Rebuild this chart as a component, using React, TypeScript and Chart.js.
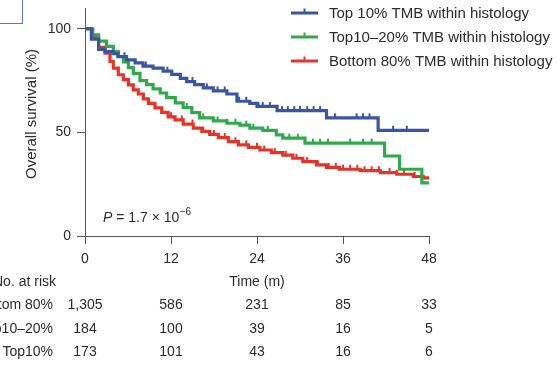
import React, { useEffect, useRef } from "react";
import { Chart, registerables } from "chart.js";
Chart.register(...registerables);

const seriesLabels = [
  "Top 10% TMB within histology",
  "Top10–20% TMB within histology",
  "Bottom 80% TMB within histology",
];
const seriesColors = ["#3a54a6", "#2eaa4c", "#e6332a"];

// Kaplan–Meier step points (time in months, survival %)
const topTimes = [0, 0.9, 1.9, 2.8, 3.9, 4.6, 5.8, 7, 8.1, 9.5, 10.9, 12.1, 13.3, 14.2, 15.3, 16.5, 17.9, 19.8, 21.2, 23, 24, 26.8, 33.7, 40.9, 48];
const topSurv = [100, 95, 90, 89, 88, 86.5, 85, 83.5, 82, 81, 79.5, 78, 76, 74.5, 73, 71.5, 70, 68.5, 65, 64, 62.5, 60.5, 57, 51, 51];

const midTimes = [0, 1.1, 1.9, 3, 3.95, 4.65, 5.35, 6.05, 6.74, 7.67, 8.6, 9.5, 10.5, 11.4, 12.6, 13.7, 14.9, 16, 17.9, 19.8, 21.6, 23, 24.8, 26.7, 27.6, 30.7, 41.8, 43.9, 47, 48];
const midSurv = [100, 97, 94, 91.5, 89, 86.6, 84, 81.2, 78.5, 75, 73, 71, 69, 66.8, 64.2, 62, 59.5, 57, 55.5, 54.4, 53.5, 52, 51, 48.8, 47.2, 44.8, 38.6, 32.2, 25.6, 25.6];

const botTimes = [0, 0.9, 1.9, 2.79, 3.49, 3.95, 4.65, 5.35, 6.05, 6.74, 7.44, 8.14, 8.84, 9.77, 10.7, 11.6, 12.56, 13.7, 15.1, 16.3, 17.4, 18.6, 20, 21.4, 22.8, 24.4, 26, 27.6, 29, 30.4, 32.3, 33.7, 35.5, 38.4, 41.2, 43.5, 45.8, 47.2, 48];
const botSurv = [100, 96, 91, 88.2, 84.2, 81, 77.8, 75.4, 72.9, 70.5, 68.5, 66.2, 64, 61.8, 59.6, 57.5, 56, 54, 52, 50.5, 49, 47.5, 45.5, 44, 42.8, 41.5, 40.2, 39, 37.5, 35.9, 34.3, 33.1, 32.2, 31.5, 30.6, 29.8, 28.7, 28, 28];

// Censoring marks (months)
const topCensor = [5.5, 8.5, 11.5, 15, 17, 18.5, 19.5, 21.5, 22.5, 24.2, 24.8, 25.8, 27.5, 28.3, 29.2, 30, 31, 31.9, 32.8, 34.9, 37.9, 38.8, 39.7, 43, 44.9];
const midCensor = [14.2, 16.5, 18.5, 19.8, 21, 22.5, 23.5, 25.5, 28.5, 29.7, 31.8, 32.8, 33.9, 37, 38.8, 40];
const botCensor = [12, 13.5, 15, 16.5, 18, 19.5, 21, 22.5, 24, 25, 26.5, 28, 29.5, 31, 32.5, 34, 35, 36, 37, 38, 39, 40, 41, 42.5, 43.5, 44.5, 46, 47];

const xTicks = [0, 12, 24, 36, 48];
const yTicks = [0, 50, 100];

const riskTitle = "No. at risk";
const riskLabels = ["Bottom 80%", "Top10–20%", "Top10%"];
const riskBottom = ["1,305", "586", "231", "85", "33"];
const riskMid = ["184", "100", "39", "16", "5"];
const riskTop = ["173", "101", "43", "16", "6"];

const FONT = '"Liberation Sans", Arial, Helvetica, sans-serif';
const TEXT = "#2b2b2b";
const AXIS = "#555555";

function survAt(times: number[], surv: number[], t: number) {
  let v = surv[0];
  for (let i = 0; i < times.length; i++) if (times[i] <= t) v = surv[i];
  return v;
}

function stepData(times: number[], surv: number[]) {
  return times.map((t, i) => ({ x: t, y: surv[i] }));
}
function censorData(times: number[], surv: number[], c: number[]) {
  return c.map((t) => ({ x: t, y: survAt(times, surv, t) }));
}

const decorPlugin = {
  id: "decor",
  afterDraw(chart: any) {
    const ctx = chart.ctx as CanvasRenderingContext2D;
    const xs = chart.scales.x;
    ctx.save();
    ctx.fillStyle = TEXT;

    // Legend
    const legRows = [13, 37, 61];
    seriesLabels.forEach((lab, i) => {
      const y = legRows[i];
      ctx.strokeStyle = seriesColors[i];
      ctx.lineWidth = 3;
      ctx.beginPath();
      ctx.moveTo(291, y);
      ctx.lineTo(318, y);
      ctx.stroke();
      ctx.lineWidth = 2;
      ctx.beginPath();
      ctx.moveTo(304.5, y);
      ctx.lineTo(304.5, y - 4.5);
      ctx.stroke();
      ctx.font = `15px ${FONT}`;
      ctx.textAlign = "left";
      ctx.textBaseline = "middle";
      ctx.fillText(lab, 329, y + 0.5);
    });

    // P value
    const py = 218;
    ctx.textBaseline = "middle";
    ctx.textAlign = "left";
    ctx.font = `italic 14px ${FONT}`;
    ctx.fillText("P", 103, py);
    let px = 103 + ctx.measureText("P").width;
    ctx.font = `14px ${FONT}`;
    const mid = " = 1.7 × 10";
    ctx.fillText(mid, px, py);
    px += ctx.measureText(mid).width + 0.5;
    ctx.font = `10px ${FONT}`;
    ctx.fillText("−6", px, py - 6);

    // Y title
    ctx.save();
    ctx.translate(32, 114);
    ctx.rotate(-Math.PI / 2);
    ctx.font = `15px ${FONT}`;
    ctx.textAlign = "center";
    ctx.textBaseline = "middle";
    ctx.fillText("Overall survival (%)", 0, 0);
    ctx.restore();

    // X title
    ctx.font = `14px ${FONT}`;
    ctx.textAlign = "center";
    ctx.textBaseline = "middle";
    ctx.fillText("Time (m)", (xs.left + xs.right) / 2, 282);

    // Risk table
    ctx.textAlign = "left";
    ctx.fillText(riskTitle, -7, 282);
    const rows = [riskBottom, riskMid, riskTop];
    const rowY = [305, 329, 352];
    rows.forEach((vals, r) => {
      ctx.textAlign = "right";
      ctx.fillText(riskLabels[r], 53, rowY[r]);
      ctx.textAlign = "center";
      vals.forEach((v, k) => {
        ctx.fillText(v, xs.getPixelForValue(xTicks[k]), rowY[r]);
      });
    });
    ctx.restore();
  },
};

export default function App() {
  const ref = useRef<HTMLCanvasElement | null>(null);
  useEffect(() => {
    document.body.style.margin = "0";
    const canvas = ref.current!;
    const line = (label: string, color: string, times: number[], surv: number[], order: number) => ({
      label,
      data: stepData(times, surv),
      borderColor: color,
      backgroundColor: color,
      borderWidth: 3.2,
      stepped: "before" as const,
      pointRadius: 0,
      fill: false,
      order,
    });
    const cens = (color: string, times: number[], surv: number[], c: number[], order: number) => ({
      label: "",
      data: censorData(times, surv, c),
      borderColor: color,
      backgroundColor: color,
      showLine: false,
      pointStyle: "dash" as const,
      rotation: 270,
      pointRadius: 4.5,
      pointBorderWidth: 2,
      order,
    });
    const chart = new Chart(canvas, {
      type: "line",
      data: {
        datasets: [
          line(seriesLabels[0], seriesColors[0], topTimes, topSurv, 1),
          cens(seriesColors[0], topTimes, topSurv, topCensor, 1),
          line(seriesLabels[1], seriesColors[1], midTimes, midSurv, 2),
          cens(seriesColors[1], midTimes, midSurv, midCensor, 2),
          line(seriesLabels[2], seriesColors[2], botTimes, botSurv, 3),
          cens(seriesColors[2], botTimes, botSurv, botCensor, 3),
        ] as any,
      },
      options: {
        animation: false,
        responsive: false,
        devicePixelRatio: 1,
        layout: { padding: { left: 0, top: 8, right: 131, bottom: 0 } },
        plugins: { legend: { display: false }, tooltip: { enabled: false } },
        scales: {
          x: {
            type: "linear",
            min: 0,
            max: 48,
            afterBuildTicks: (s: any) => {
              s.ticks = xTicks.map((v) => ({ value: v }));
            },
            afterFit: (s: any) => {
              s.height = 131;
              s.paddingLeft = 0;
              s.paddingRight = 0;
            },
            ticks: {
              font: { family: FONT, size: 14 },
              color: TEXT,
              padding: 7,
              maxRotation: 0,
            },
            grid: { drawOnChartArea: false, drawTicks: true, tickLength: 8, color: AXIS, lineWidth: 1 },
            border: { display: true, color: AXIS, width: 1 },
          },
          y: {
            type: "linear",
            min: 0,
            max: 110,
            afterBuildTicks: (s: any) => {
              s.ticks = yTicks.map((v) => ({ value: v }));
            },
            afterFit: (s: any) => {
              s.width = 85;
              s.paddingTop = 0;
              s.paddingBottom = 0;
            },
            ticks: {
              font: { family: FONT, size: 14 },
              color: TEXT,
              padding: 6,
            },
            grid: { drawOnChartArea: false, drawTicks: true, tickLength: 8, color: AXIS, lineWidth: 1 },
            border: { display: true, color: AXIS, width: 1 },
          },
        },
      },
      plugins: [decorPlugin],
    });
    return () => chart.destroy();
  }, []);
  return (
    <div style={{ position: "relative", width: 560, height: 367, background: "#fff", overflow: "hidden" }}>
      <canvas ref={ref} width={560} height={367} style={{ display: "block" }} />
      <div
        style={{
          position: "absolute",
          left: -10,
          top: -10,
          width: 31,
          height: 32,
          border: "1.5px solid #5a78a8",
        }}
      />
    </div>
  );
}
